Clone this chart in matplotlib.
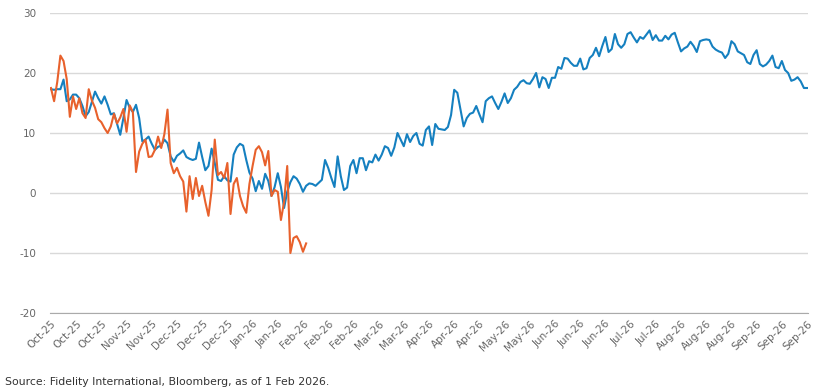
import matplotlib
matplotlib.use('Agg')
import matplotlib.pyplot as plt

plt.rcParams['axes.unicode_minus'] = False

# blue series, one value per trading day
blue = [17.3, 17.2, 17.3, 17.3, 18.9, 15.3, 15.6, 16.4, 16.4, 15.8,
        14.5, 12.8, 13.5, 15.2, 16.9, 15.8, 14.9, 16.1, 14.7, 13.1,
        13.3, 11.5, 9.7, 12.5, 15.5, 14.2, 13.5, 14.7, 12.5, 8.6,
        8.9, 9.4, 8.2, 7.2, 7.7, 7.9, 8.9, 8.3, 6.1, 5.2,
        6.2, 6.6, 7.1, 6.0, 5.7, 5.5, 5.7, 8.4, 6.0, 3.8,
        4.5, 7.4, 5.0, 2.2, 2.0, 2.8, 2.1, 1.9, 6.4, 7.6,
        8.2, 7.9, 5.5, 3.4, 2.4, 0.3, 2.0, 0.7, 3.2, 2.0,
        -0.5, 1.0, 3.3, 1.0, -2.5, 0.2, 1.8, 2.8, 2.4, 1.5,
        0.2, 1.2, 1.6, 1.5, 1.2, 1.7, 2.2, 5.5, 4.2, 2.5,
        1.0, 6.1, 2.8, 0.5, 0.9, 4.5, 5.5, 3.3, 5.8, 5.8,
        3.8, 5.3, 5.1, 6.4, 5.4, 6.4, 7.8, 7.5, 6.2, 7.6,
        10.0, 8.9, 7.8, 9.8, 8.5, 9.5, 10.0, 8.2, 7.9, 10.5,
        11.1, 8.0, 11.5, 10.7, 10.6, 10.5, 11.0, 13.0, 17.2, 16.7,
        13.9, 11.1, 12.5, 13.2, 13.4, 14.5, 13.1, 11.8, 15.3, 15.8,
        16.1, 15.0, 14.0, 15.2, 16.6, 15.0, 15.8, 17.2, 17.7, 18.5,
        18.8, 18.3, 18.2, 19.0, 20.0, 17.6, 19.3, 19.0, 17.5, 19.2,
        19.2, 21.0, 20.7, 22.5, 22.4, 21.7, 21.2, 21.2, 22.4, 20.6,
        20.8, 22.5, 23.0, 24.2, 22.8, 24.5, 26.0, 23.5, 24.0, 26.5,
        24.8, 24.2, 24.8, 26.5, 26.8, 25.9, 25.1, 26.0, 25.7, 26.4,
        27.1, 25.5, 26.3, 25.4, 25.4, 26.2, 25.6, 26.4, 26.7, 25.1,
        23.6, 24.1, 24.4, 25.2, 24.5, 23.5, 25.3, 25.5, 25.6, 25.5,
        24.4, 23.9, 23.6, 23.4, 22.5, 23.2, 25.3, 24.8, 23.6, 23.3,
        23.0, 21.8, 21.5, 23.0, 23.8, 21.5, 21.1, 21.4, 22.0, 22.9,
        21.0, 20.8, 22.0, 20.5, 20.0, 18.7, 18.9, 19.3, 18.6, 17.5,
        17.5]

# orange series, stops early in Feb-26
orange = [17.5, 15.3, 18.5, 22.9, 22.0, 19.0, 12.7, 16.1, 14.0, 15.8,
          13.3, 12.5, 17.3, 15.4, 14.2, 12.3, 11.8, 10.8, 10.0, 11.1,
          13.2, 11.6, 12.6, 14.0, 10.2, 14.6, 13.5, 3.5, 6.9, 8.2,
          8.9, 6.0, 6.1, 7.2, 9.4, 7.5, 9.8, 13.9, 5.0, 3.3,
          4.2, 2.8, 1.9, -3.1, 2.8, -1.0, 2.5, -0.5, 1.2, -1.5,
          -3.8, 0.5, 8.9, 3.0, 3.5, 2.5, 5.0, -3.5, 1.5, 2.5,
          -0.5, -2.2, -3.3, 1.5, 4.5, 7.2, 7.8, 6.8, 4.6, 7.0,
          -0.5, 0.5, 0.2, -4.5, -1.5, 4.5, -10.0, -7.5, -7.2, -8.2,
          -9.8, -8.4]

tick_labels = ['Oct-25', 'Oct-25', 'Oct-25', 'Nov-25', 'Nov-25', 'Dec-25',
               'Dec-25', 'Dec-25', 'Jan-26', 'Jan-26', 'Feb-26', 'Feb-26',
               'Feb-26', 'Mar-26', 'Mar-26', 'Apr-26', 'Apr-26', 'Apr-26',
               'May-26', 'May-26', 'Jun-26', 'Jun-26', 'Jun-26', 'Jul-26',
               'Jul-26', 'Aug-26', 'Aug-26', 'Aug-26', 'Sep-26', 'Sep-26',
               'Sep-26']
tick_step = 8

fig = plt.figure(figsize=(8.17, 3.89), dpi=100)
ax = fig.add_axes([50 / 817, 1 - 313 / 389, 758 / 817, 300 / 389])

ax.plot(range(len(blue)), blue, color='#1580c0', lw=1.5, zorder=3)
ax.plot(range(len(orange)), orange, color='#e8612c', lw=1.5, zorder=4)

ax.set_ylim(-20, 30)
ax.set_yticks(range(-20, 31, 10))
ax.set_xlim(-0.3, len(blue) - 0.7)
ax.set_xticks([i * tick_step for i in range(len(tick_labels))])
ax.set_xticklabels(tick_labels, rotation=45, ha='right', rotation_mode='anchor')

ax.grid(axis='y', color='#d9d9d9', lw=1)
ax.set_axisbelow(True)
for s in ['top', 'right', 'left']:
    ax.spines[s].set_visible(False)
ax.spines['bottom'].set_color('#aaaaaa')
ax.tick_params(axis='both', length=0, colors='#666666', labelsize=7.5)
ax.tick_params(axis='y', pad=10)
ax.tick_params(axis='x', pad=4)

fig.text(5 / 817, 1 - 382 / 389, 'Source: Fidelity International, Bloomberg, as of 1 Feb 2026.',
         fontsize=7.8, color='#333333', va='center', ha='left')

fig.savefig('out.png', dpi=100)
